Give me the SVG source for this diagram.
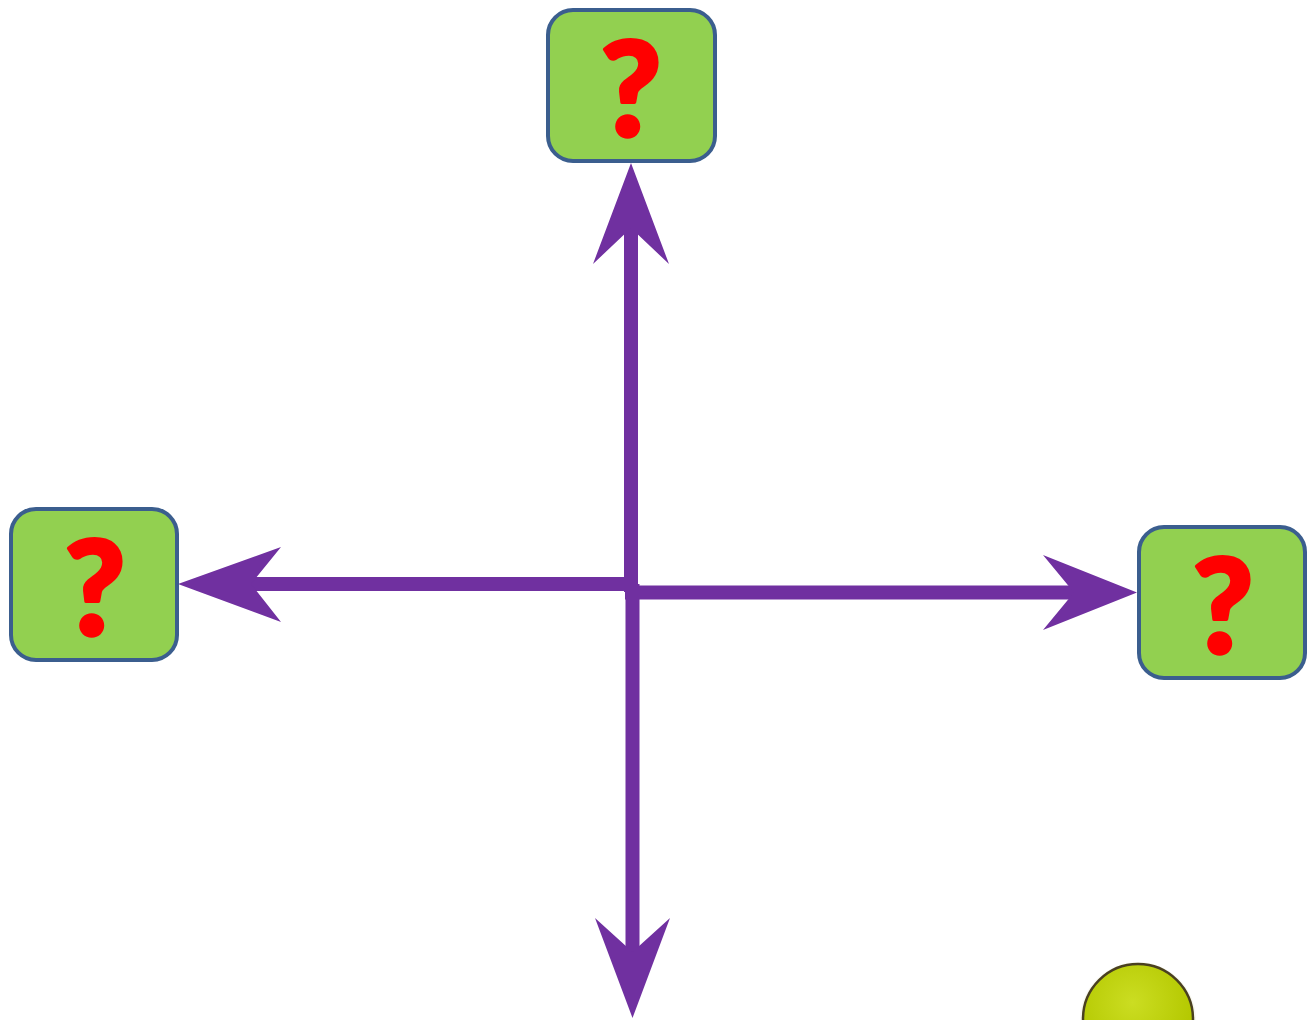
<svg xmlns="http://www.w3.org/2000/svg" width="1307" height="1020" viewBox="0 0 1307 1020">
<defs>
<style>
.node{fill:#92D050;stroke:#3B5E8E;stroke-width:4}
.q{fill:#FF0000;stroke:#FF0000;stroke-width:3.5;stroke-linejoin:round;font-family:Lato,"Noto Sans",sans-serif;font-weight:900;font-size:132px;text-anchor:middle}
.ln{stroke:#7030A0;stroke-width:14;fill:none}
.hd{fill:#7030A0}
</style>
<radialGradient id="ball" cx="0.45" cy="0.35" r="0.7">
<stop offset="0" stop-color="#CBDD22"/>
<stop offset="0.8" stop-color="#B4C800"/>
<stop offset="1" stop-color="#8FA000"/>
</radialGradient>
</defs>
<rect width="1307" height="1020" fill="#FFFFFF"/>
<g id="connectors">
<line class="ln" x1="631" y1="592" x2="631" y2="226"/>
<polygon class="hd" points="631,163 669,264 631,228 593,264"/>
<line class="ln" x1="632.5" y1="584" x2="632.5" y2="954"/>
<polygon class="hd" points="632.5,1018 595,918 632.5,952 670,918"/>
<line class="ln" x1="632" y1="584" x2="249" y2="584"/>
<polygon class="hd" points="178,584 281,547 251,584 281,622"/>
<line class="ln" x1="625" y1="592.5" x2="1076" y2="592.5"/>
<polygon class="hd" points="1137,592.5 1043,555 1074,592.5 1043,630"/>
</g>
<g id="node-top">
<rect class="node" x="548" y="10" width="167" height="151" rx="25"/>
<text class="q" x="631" y="136">?</text>
</g>
<g id="node-left">
<rect class="node" x="11" y="509" width="166" height="151" rx="25"/>
<text class="q" x="95" y="635">?</text>
</g>
<g id="node-right">
<rect class="node" x="1139" y="527" width="166" height="151" rx="25"/>
<text class="q" x="1223" y="653">?</text>
</g>
<g id="ball-shape">
<circle cx="1138" cy="1020" r="58" fill="#F4F4E8" opacity="0.6"/>
<circle cx="1138" cy="1019" r="55" fill="url(#ball)" stroke="#4A4020" stroke-width="2.5"/>
</g>
</svg>
